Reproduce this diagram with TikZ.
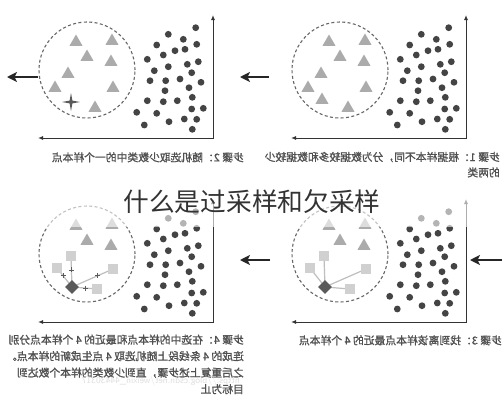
\documentclass[tikz,border=0pt]{standalone}
\usepackage{fontspec}
\usepackage{graphicx}
\newfontfamily\cjk{Noto Sans CJK SC}
\newfontfamily\cjkb[FakeBold=1.3]{Noto Sans CJK SC}
\usetikzlibrary{arrows.meta,shapes.geometric,calc}
\definecolor{dotc}{HTML}{444444}
\definecolor{trigray}{HTML}{ABABAB}
\definecolor{sqgray}{HTML}{D0D0D0}
\definecolor{linegray}{HTML}{BEBEBE}
\definecolor{diagray}{HTML}{5A5A5A}
\definecolor{axisc}{HTML}{333333}
\definecolor{captc}{HTML}{505050}
\tikzset{
  tri/.style={regular polygon, regular polygon sides=3, fill=trigray, inner sep=0pt, minimum size=15pt},
  sqn/.style={rectangle, fill=sqgray, inner sep=0pt, minimum size=10.5pt},
  dia/.style={diamond, fill=diagray, inner sep=0pt, minimum size=14pt},
  dashc/.style={circle, draw=black!60, dash pattern=on 3pt off 2.4pt, line width=1.1pt, minimum size=96pt, inner sep=0pt},
  axisline/.style={draw=axisc, line width=1pt, {Latex[length=5pt,width=4pt]}-{Latex[length=5pt,width=4pt]}},
  bigarrow/.style={draw=black!85, line width=2.4pt, -{Stealth[length=10pt,width=10pt,inset=2.5pt]}},
  linkline/.style={draw=linegray, line width=1.2pt},
  plusmark/.style={draw=diagray, line width=0.8pt},
  capt/.style={inner sep=0pt, text=captc, font=\cjkb}
}
\newcommand\dotcloud{%
  \foreach \x/\y in {195.7/27.7, 168.3/34.3, 183.3/39.3, 156.7/45, 196.7/44.3, 175/50.7, 185/49.3,
    163.3/55, 147.3/59.3, 168.3/66.7, 187.3/64.3, 198.3/61.7, 154.3/70.7, 191.7/72.7, 150/80.7,
    165.7/80.7, 180/79, 201/82.3, 189/87.7, 165/90.7, 192.3/97.3, 147.3/100.7, 163.3/101.7,
    177.3/100.7, 136.7/112.3, 156.7/113.3, 191.7/109, 203.3/108.3, 144.3/125, 169/121.7,
    184.3/119, 196.7/119.3, 192.3/129.3}{\fill[dotc] (\x,\y) circle (3.4);}}
\newcommand\panelaxes[1]{%
  \coordinate (#1o) at (213,138); \coordinate (#1y) at (213,15); \coordinate (#1x) at (38,138);
  \draw[axisline] (#1y) -- (#1o) -- (#1x);}
\newcommand\dashcircle[1]{\node[dashc] (#1c) at (87,70) {};}
\newcommand\uppertris[1]{%
  \node[tri] (#1t1) at (76,42) {}; \node[tri] (#1t2) at (112,41) {};
  \node[tri] (#1t3) at (87,57) {}; \node[tri] (#1t4) at (111,62) {};}
\newcommand\lowertris[1]{%
  \node[tri] (#1t5) at (68,74) {}; \node[tri] (#1t6) at (55,88) {};
  \node[tri] (#1t7) at (113,88) {}; \node[tri] (#1t8) at (95,108) {};}
\newcommand\squaresdiamond[1]{%
  \coordinate (#1q1) at (71,72); \coordinate (#1q2) at (57,84);
  \coordinate (#1q3) at (113,85); \coordinate (#1q4) at (97,105);
  \coordinate (#1dq) at (72,103);
  \draw[linkline] (#1dq) -- (#1q1);
  \draw[linkline] (#1dq) -- (#1q2);
  \draw[linkline] (#1dq) -- (#1q3);
  \draw[linkline] (#1dq) -- (#1q4);
  \node[sqn] (#1s1) at (#1q1) {}; \node[sqn] (#1s2) at (#1q2) {};
  \node[sqn] (#1s3) at (#1q3) {}; \node[sqn] (#1s4) at (#1q4) {};
  \node[dia] (#1d) at (#1dq) {};}
\begin{document}
\begin{tikzpicture}[x=1pt,y=-1pt]
\fill[white] (0,0) rectangle (504,400);
\useasboundingbox (0,0) rectangle (504,400);

% ---------- top left: step 2
\begin{scope}
  \panelaxes{a}
  \dashcircle{a}
  \uppertris{a}
  \lowertris{a}
  \fill[diagray] (71,93) -- (72.4,100.6) -- (80,102) -- (72.4,103.4) -- (71,111)
     -- (69.6,103.4) -- (62,102) -- (69.6,100.6) -- cycle;
  \dotcloud
\end{scope}
\coordinate (arA1) at (38,77); \coordinate (arA2) at (7,77);
\draw[bigarrow] (arA1) -- (arA2);

% ---------- top right: step 1
\begin{scope}[shift={(253,0)}]
  \panelaxes{b}
  \dashcircle{b}
  \uppertris{b}
  \lowertris{b}
  \node[tri] (bt9) at (69,100) {};
  \dotcloud
\end{scope}
\coordinate (arB1) at (269,77); \coordinate (arB2) at (240,77);
\draw[bigarrow] (arB1) -- (arB2);

% ---------- bottom left: step 4
\begin{scope}[shift={(0,184)}]
  \panelaxes{c}
  \dashcircle{c}
  \uppertris{c}
  \squaresdiamond{c}
  \foreach \s/\t in {1/0.55,2/0.6,3/0.63,4/0.52}{
    \coordinate (cp\s) at ($(cdq)!\t!(cq\s)$);
    \draw[plusmark] ($(cp\s)+(-2.5,0)$) -- ($(cp\s)+(2.5,0)$);
    \draw[plusmark] ($(cp\s)+(0,-2.5)$) -- ($(cp\s)+(0,2.5)$);}
  \dotcloud
\end{scope}

% ---------- bottom right: step 3
\begin{scope}[shift={(253,184)}]
  \panelaxes{d}
  \dashcircle{d}
  \uppertris{d}
  \squaresdiamond{d}
  \dotcloud
\end{scope}
\coordinate (arC1) at (270,260); \coordinate (arC2) at (240,260);
\draw[bigarrow] (arC1) -- (arC2);
\coordinate (arD1) at (502,260); \coordinate (arD2) at (470,260);
\draw[bigarrow] (arD1) -- (arD2);

% ---------- captions (mirrored)
\node[capt, anchor=north east] (capA) at (244,150) {\reflectbox{\fontsize{10.8}{16}\selectfont
  \begin{tabular}{@{}l@{}}步骤 2：随机选取少数类中的一个样本点\end{tabular}}};
\node[capt, anchor=north east] (capB) at (500,150) {\reflectbox{\fontsize{10.8}{15.5}\selectfont
  \begin{tabular}{@{}l@{}}步骤 1：根据样本不同，分为数据较多和数据较少\\的两类\end{tabular}}};
\node[capt, anchor=north east] (capD) at (502,333) {\reflectbox{\fontsize{10.8}{16}\selectfont
  \begin{tabular}{@{}l@{}}步骤 3：找到离该样本点最近的 4 个样本点\end{tabular}}};
\node[capt, anchor=north east] (capC) at (244,332) {\reflectbox{\fontsize{10.8}{16.5}\selectfont
  \begin{tabular}{@{}l@{}}步骤 4：在选中的样本点和最近的 4 个样本点分别\\连成的 4 条线段上随机选取 4 点生成新的样本点。\\之后重复上述步骤，直到少数类的样本个数达到\\目标为止\end{tabular}}};
\node[inner sep=0pt, anchor=east, text=black!13, font=\sffamily\fontsize{9.5}{10}\selectfont] (wm) at (240,381)
  {\reflectbox{https://blog.csdn.net/weixin\_44430317}};

% ---------- title band
\fill[white, opacity=0.6] (0,184) rectangle (504,227);
\node[inner sep=0pt, text=black!80, font=\cjk\fontsize{25.7}{28}\selectfont] (title) at (252,202) {什么是过采样和欠采样};
\end{tikzpicture}
\end{document}
